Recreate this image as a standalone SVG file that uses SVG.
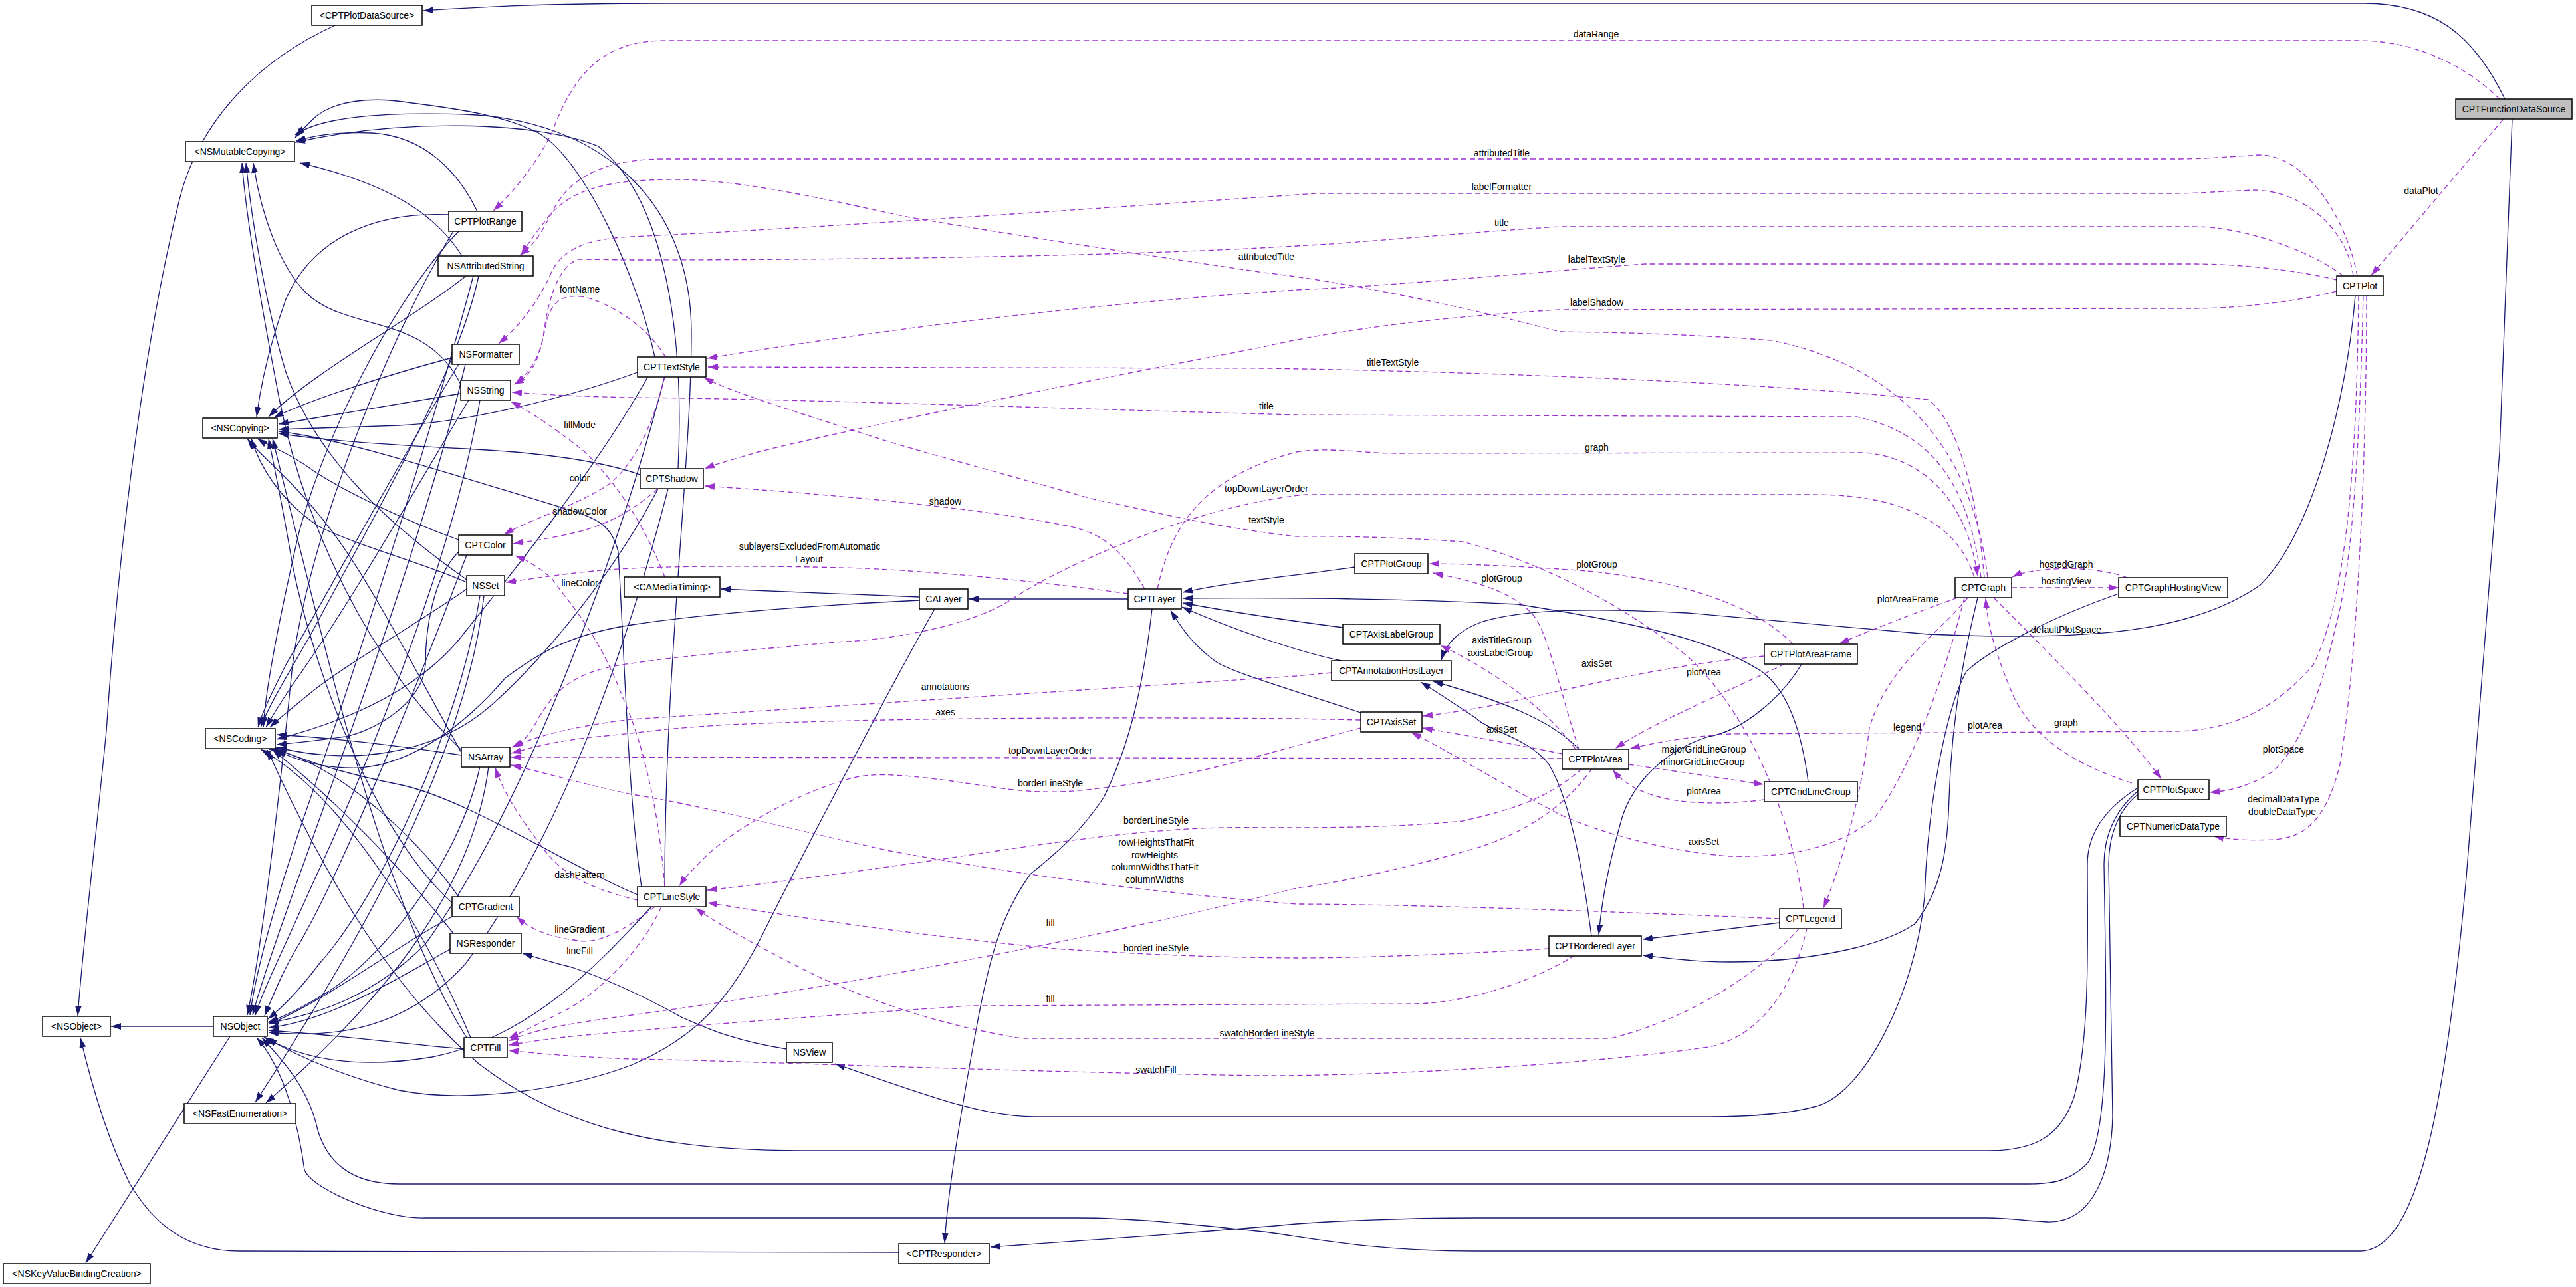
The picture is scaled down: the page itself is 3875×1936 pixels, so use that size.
<svg xmlns="http://www.w3.org/2000/svg" width="3875" height="1936" viewBox="0 0 3875 1936">
<style>
.n rect{fill:#fff;stroke:#000;stroke-width:1.5}
.n text,.l{font-family:"Liberation Sans",Arial,sans-serif;font-size:14px;text-anchor:middle;fill:#000}
.s{fill:none;stroke:#191970;stroke-width:1.3;marker-end:url(#ab)}
.d{fill:none;stroke:#9a32cd;stroke-width:1.3;stroke-dasharray:8,5;marker-end:url(#ad)}
</style>
<defs>
<marker id="ab" viewBox="0 0 15 10" refX="15" refY="5" markerWidth="15" markerHeight="10" markerUnits="userSpaceOnUse" orient="auto"><path d="M0,0L15,5L0,10z" fill="#191970"/></marker>
<marker id="ad" viewBox="0 0 15 10" refX="15" refY="5" markerWidth="15" markerHeight="10" markerUnits="userSpaceOnUse" orient="auto"><path d="M0,0L15,5L0,10z" fill="#9a32cd"/></marker>
</defs>
<rect width="3875" height="1936" fill="#fff"/>
<g id="edges">
<!-- inheritance -->
<path class="s" d="M3768,149 C3720,50 3660,5 3555,5 L1000,5 C800,5 700,12 637,16"/>
<path class="s" d="M3779,179 L3760,680 L3710,1320 C3680,1650 3640,1882 3550,1882 L2220,1882 C2050,1882 1950,1858 1900,1853 C1780,1840 1700,1832 1620,1832 L640,1832 C580,1835 470,1790 458,1760 C450,1700 430,1610 386,1561"/>
<path class="s" d="M3216,1190 C3180,1220 3165,1260 3165,1300 C3168,1500 3175,1700 3140,1750 C3110,1780 3080,1781 3050,1781 L600,1781 C520,1781 490,1740 478,1700 C465,1640 430,1600 394,1561"/>
<path class="s" d="M3216,1185 C3160,1220 3140,1260 3140,1300 C3140,1400 3145,1560 3120,1650 C3100,1710 3060,1731 2990,1731 L1205,1731 C1000,1731 850,1700 720,1600 C580,1480 480,1300 402,1128"/>
<path class="s" d="M3216,1195 C3185,1220 3172,1260 3172,1300 L3178,1680 C3176,1760 3150,1840 3080,1838 C3040,1836 3020,1832 2990,1832 L2220,1832 C2100,1832 1990,1838 1950,1841 C1800,1855 1600,1868 1490,1876"/>
<path class="s" d="M1352,1884 L360,1882 C280,1882 230,1840 195,1780 C160,1710 135,1620 121,1561"/>
<path class="s" d="M504,38 C390,90 300,180 270,300 C220,500 180,800 160,1100 C140,1300 122,1450 117,1528"/>
<path class="s" d="M321,1544 L167,1544"/>
<path class="s" d="M346,1559 L129,1900"/>
<path class="s" d="M1383,898 L1084,886"/>
<path class="s" d="M1697,901 L1457,901"/>
<path class="s" d="M1383,903 C1200,912 1050,925 950,940 C850,955 800,990 760,1020 C700,1090 620,1150 540,1155 C480,1157 440,1140 415,1129"/>
<path class="s" d="M1406,916 C1330,1050 1200,1300 1150,1400 C1100,1500 1050,1560 950,1602 C850,1640 700,1660 600,1640 C520,1620 450,1590 401,1562"/>
<path class="s" d="M1733,916 C1720,1030 1700,1120 1660,1200 C1620,1260 1580,1290 1550,1315 C1510,1370 1490,1430 1470,1540 C1440,1700 1425,1800 1421,1870"/>
<path class="s" d="M2038,853 C1950,866 1850,875 1779,891"/>
<path class="s" d="M2720,1176 C2710,1100 2690,1040 2650,1010 C2580,965 2480,940 2283,909 C2100,900 1950,899 1779,900"/>
<path class="s" d="M2020,944 C1950,935 1850,920 1779,907"/>
<path class="s" d="M2018,994 C1950,980 1850,945 1778,913"/>
<path class="s" d="M2047,1072 C1950,1040 1850,1010 1830,996 C1800,975 1780,950 1761,918"/>
<path class="s" d="M3543,445 C3530,600 3480,800 3400,880 C3300,950 3150,965 2900,954 L2538,922 C2400,915 2300,915 2230,935 C2190,950 2175,970 2168,993"/>
<path class="s" d="M2375,1127 C2340,1090 2280,1060 2156,1025"/>
<path class="s" d="M2394,1408 C2380,1300 2360,1200 2330,1150 C2300,1110 2240,1100 2220,1080 C2190,1060 2160,1040 2137,1026"/>
<path class="s" d="M2710,999 C2680,1050 2620,1100 2570,1108 C2500,1130 2455,1182 2440,1230 C2420,1300 2410,1350 2405,1406"/>
<path class="s" d="M2677,1388 L2471,1413"/>
<path class="s" d="M2975,899 C2950,1000 2935,1100 2932,1200 C2930,1280 2920,1340 2880,1390 C2820,1430 2700,1447 2602,1447 C2540,1447 2500,1440 2471,1437"/>
<path class="s" d="M3187,893 C3080,930 2990,980 2958,1010 C2930,1060 2900,1200 2895,1350 C2880,1500 2800,1650 2729,1665 C2680,1678 2620,1680 2570,1680 L1556,1680 C1480,1680 1400,1650 1256,1600"/>
<path class="s" d="M1183,1578 C1100,1565 1060,1545 1027,1531 C980,1505 920,1475 860,1455 C820,1445 800,1438 786,1434"/>
<!-- left cluster -->
<path class="s" d="M718,318 C690,260 640,205 560,200 C500,198 470,205 445,212"/>
<path class="s" d="M675,323 C560,318 470,360 430,450 C405,520 392,580 386,627"/>
<path class="s" d="M690,348 C610,430 500,620 450,800 C420,930 400,1030 396,1094"/>
<path class="s" d="M682,348 C600,480 470,780 440,1000 C420,1200 395,1420 372,1527"/>
<path class="s" d="M695,385 C660,330 600,280 451,245"/>
<path class="s" d="M701,415 C620,480 470,560 404,627"/>
<path class="s" d="M720,415 C690,560 560,780 470,950 C430,1020 405,1060 392,1094"/>
<path class="s" d="M712,415 C650,650 520,1050 450,1250 C410,1370 385,1460 376,1527"/>
<path class="s" d="M680,538 C580,565 470,600 412,628"/>
<path class="s" d="M690,548 C620,660 500,880 430,1000 C410,1040 395,1070 388,1094"/>
<path class="s" d="M700,548 C640,800 520,1120 460,1290 C420,1400 392,1480 380,1527"/>
<path class="s" d="M693,578 C640,470 520,500 460,440 C420,400 392,320 381,245"/>
<path class="s" d="M693,592 L419,638"/>
<path class="s" d="M705,602 C640,710 520,920 440,1030 C420,1060 408,1080 400,1094"/>
<path class="s" d="M722,602 C680,850 540,1180 470,1330 C430,1420 395,1490 384,1527"/>
<path class="s" d="M690,812 C600,780 500,730 460,700 C430,680 400,668 387,660"/>
<path class="s" d="M690,830 C650,870 640,950 640,1000 C635,1060 560,1100 520,1108 C470,1115 440,1118 416,1120"/>
<path class="s" d="M702,835 C640,1000 520,1300 450,1420 C425,1460 410,1500 398,1528"/>
<path class="s" d="M702,872 C600,800 480,700 430,560 C400,460 378,330 370,245"/>
<path class="s" d="M702,876 C640,848 540,822 480,792 C420,752 390,700 378,660"/>
<path class="s" d="M702,886 C640,930 520,1000 470,1040 C440,1065 420,1080 406,1094"/>
<path class="s" d="M722,896 C690,1100 570,1350 480,1450 C450,1490 425,1515 403,1533"/>
<path class="s" d="M728,896 C700,1150 520,1450 384,1658"/>
<path class="s" d="M694,1128 C560,1000 460,800 420,600 C395,470 370,330 364,245"/>
<path class="s" d="M694,1132 C620,1000 560,880 500,800 C440,720 395,690 372,660"/>
<path class="s" d="M694,1136 C600,1122 500,1110 416,1105"/>
<path class="s" d="M722,1153 C690,1300 570,1450 480,1500 C450,1518 425,1530 403,1538"/>
<path class="s" d="M735,1153 C710,1350 560,1520 400,1659"/>
<path class="s" d="M680,1358 C560,1250 470,1000 440,850 C425,760 412,700 404,660"/>
<path class="s" d="M690,1349 C620,1250 520,1170 450,1140 C430,1132 418,1128 404,1127"/>
<path class="s" d="M682,1378 C600,1420 500,1500 404,1541"/>
<path class="s" d="M682,1404 C600,1300 500,1200 410,1128"/>
<path class="s" d="M677,1428 C600,1470 500,1535 404,1546"/>
<path class="s" d="M702,1561 C600,1400 520,1100 470,900 C440,780 420,700 410,660"/>
<path class="s" d="M708,1561 C640,1400 520,1200 392,1127"/>
<path class="s" d="M698,1578 C620,1572 500,1556 404,1550"/>
<path class="s" d="M985,537 C960,420 880,240 810,200 C760,175 700,165 620,155 C560,145 500,150 470,180 C458,192 450,200 444,207"/>
<path class="s" d="M959,560 C850,600 700,635 600,640 C500,643 450,645 419,646"/>
<path class="s" d="M975,566 C900,700 780,850 700,950 C640,1030 540,1080 416,1112"/>
<path class="s" d="M1000,566 C940,800 800,1200 640,1420 C560,1500 480,1525 404,1539"/>
<path class="s" d="M1020,705 C1030,500 1000,300 900,220 C800,180 600,180 444,214"/>
<path class="s" d="M963,714 C900,692 800,680 700,675 C560,668 470,660 419,652"/>
<path class="s" d="M990,735 C930,850 830,980 740,1060 C650,1140 520,1150 416,1124"/>
<path class="s" d="M1005,735 C950,950 850,1250 700,1450 C600,1560 480,1560 404,1553"/>
<path class="s" d="M1000,1334 C1000,1000 1040,700 1040,500 C1040,300 900,180 700,172 C560,168 480,178 444,203"/>
<path class="s" d="M965,1334 C945,1200 940,1000 930,830 C920,790 900,780 850,765 C700,720 520,660 419,649"/>
<path class="s" d="M959,1346 C850,1300 700,1200 600,1180 C500,1160 450,1140 416,1127"/>
<path class="s" d="M980,1364 C900,1450 800,1560 650,1590 C530,1610 450,1590 397,1560"/>
<!-- usage -->
<path class="d" d="M3760,149 C3700,90 3620,61 3550,61 L1000,61 C900,61 860,120 830,200 C800,260 760,300 742,317"/>
<path class="d" d="M3766,179 L3567,414"/>
<path class="d" d="M3546,415 C3530,330 3470,233 3398,233 C3350,236 3310,239 3280,239 L1000,239 C890,239 850,280 830,320 C810,360 800,370 782,384"/>
<path class="d" d="M3540,415 C3530,340 3460,286 3390,286 C3340,288 3300,291 3270,291 L1980,291 C1700,310 1200,345 950,356 C870,360 840,380 825,420 C800,470 770,500 750,517"/>
<path class="d" d="M3525,415 C3480,380 3380,341 3300,341 L2346,341 C2200,350 2050,365 1950,370 C1700,385 1300,391 950,391 L870,390 C840,400 825,450 818,500 C812,540 800,565 773,578"/>
<path class="d" d="M3515,421 C3450,405 3360,397 3300,397 L2474,397 C2300,410 2100,430 1950,436 C1600,460 1300,500 1064,539"/>
<path class="d" d="M3515,438 C3450,455 3360,464 3300,464 L2346,466 C2100,480 1950,510 1900,522 C1700,560 1300,640 1140,680 C1100,692 1080,697 1060,705"/>
<path class="d" d="M2990,869 C2960,620 2800,540 2665,512 C2500,500 2400,500 2346,499 C2200,460 2000,420 1900,410 C1700,380 1500,350 1358,325 C1200,290 1100,270 1014,270 C900,270 860,290 830,320 C810,345 795,365 784,383"/>
<path class="d" d="M2985,869 C2970,700 2930,620 2900,601 C2700,580 2300,560 1900,554 L1065,552"/>
<path class="d" d="M2980,869 C2960,720 2900,650 2793,627 L1950,624 C1600,615 1200,600 950,598 C850,596 800,592 770,590"/>
<path class="d" d="M1741,886 C1760,800 1800,720 1950,680 C2000,672 2050,682 2100,682 L2806,681 C2900,690 2960,760 2975,867"/>
<path class="d" d="M2970,869 C2950,800 2880,744 2729,744 L1964,744 C1800,760 1600,850 1524,900 C1450,950 1300,965 1269,965 C1100,980 1000,990 950,998 C850,1010 830,1050 810,1080 C800,1100 790,1115 772,1123"/>
<path class="d" d="M2713,1367 C2700,1250 2640,1080 2538,987 C2430,900 2300,840 2200,815 C2100,808 2000,806 1950,807 C1800,790 1700,760 1652,753 C1500,710 1350,670 1301,653 C1200,620 1100,590 1059,568"/>
<path class="d" d="M1722,886 C1690,830 1660,800 1600,790 C1450,760 1200,740 1060,731"/>
<path class="d" d="M1697,893 C1600,880 1450,862 1300,855 C1150,850 1000,852 950,855 C880,858 820,868 761,876"/>
<path class="d" d="M1000,868 C970,790 930,730 880,680 C830,640 790,615 768,604"/>
<path class="d" d="M1001,537 C980,500 930,460 880,447 C840,440 830,460 823,480 C815,520 810,550 775,577"/>
<path class="d" d="M1000,566 C980,650 950,700 918,727 C870,760 800,780 758,804"/>
<path class="d" d="M990,735 C950,770 910,790 870,800 C820,812 790,815 772,818"/>
<path class="d" d="M1000,1334 C990,1200 960,1100 937,1050 C900,950 850,900 830,870 C800,845 785,840 775,836"/>
<path class="d" d="M959,1354 C900,1340 850,1320 820,1280 C790,1240 760,1200 745,1155"/>
<path class="d" d="M985,1364 C940,1400 900,1420 870,1415 C830,1410 800,1400 777,1379"/>
<path class="d" d="M995,1364 C960,1440 890,1500 850,1520 C810,1540 790,1550 765,1562"/>
<path class="d" d="M2003,1012 L1950,1017 L950,1082 C880,1090 810,1105 770,1124"/>
<path class="d" d="M2047,1083 L1950,1081 C1600,1078 1300,1081 1100,1090 C1000,1095 950,1104 900,1108 C830,1115 800,1125 769,1133"/>
<path class="d" d="M2350,1141 L769,1139"/>
<path class="d" d="M2047,1095 C1950,1120 1800,1170 1652,1186 C1600,1193 1556,1193 1500,1185 C1400,1170 1330,1160 1288,1169 C1200,1190 1100,1250 1060,1290 C1040,1310 1030,1320 1022,1333"/>
<path class="d" d="M2380,1156 C2330,1200 2280,1217 2200,1235 C2100,1245 2000,1245 1900,1245 C1800,1243 1700,1250 1500,1280 C1300,1310 1150,1330 1064,1339"/>
<path class="d" d="M2677,1382 C2400,1370 2100,1360 1950,1360 C1700,1340 1500,1310 1339,1280 C1200,1250 1050,1210 950,1195 C880,1180 810,1160 769,1151"/>
<path class="d" d="M2395,1156 C2350,1220 2280,1260 2206,1280 C2100,1310 2000,1330 1950,1336 C1700,1400 1300,1480 950,1527 C850,1540 800,1550 765,1566"/>
<path class="d" d="M2330,1427 C2200,1435 2050,1441 1950,1441 C1800,1440 1700,1434 1600,1428 C1400,1410 1200,1380 1064,1358"/>
<path class="d" d="M2369,1437 C2300,1480 2200,1510 2123,1510 L1460,1513 C1200,1530 950,1550 850,1560 C810,1565 790,1568 765,1572"/>
<path class="d" d="M2707,1396 C2650,1460 2550,1530 2423,1562 L1537,1562 C1400,1540 1300,1500 1237,1472 C1150,1430 1080,1390 1046,1366"/>
<path class="d" d="M2718,1396 C2700,1480 2650,1560 2570,1575 C2400,1600 2100,1618 1900,1618 C1500,1612 1100,1595 950,1593 C870,1590 810,1585 765,1580"/>
<path class="d" d="M2697,969 C2650,920 2560,880 2400,860 C2300,852 2200,848 2150,848"/>
<path class="d" d="M2375,1127 C2350,1050 2330,960 2310,930 C2280,890 2220,875 2156,862"/>
<path class="d" d="M2945,899 C2900,915 2820,945 2767,968"/>
<path class="d" d="M2370,1127 C2330,1070 2250,1010 2167,971"/>
<path class="d" d="M2654,987 C2500,1000 2350,1040 2250,1060 C2200,1070 2160,1075 2140,1077"/>
<path class="d" d="M2684,999 C2600,1040 2480,1090 2430,1126"/>
<path class="d" d="M2350,1134 C2280,1120 2200,1105 2140,1095"/>
<path class="d" d="M2960,899 C2920,950 2840,1000 2812,1095 C2800,1200 2770,1300 2743,1366"/>
<path class="d" d="M2450,1150 C2520,1160 2600,1172 2653,1180"/>
<path class="d" d="M2654,1203 C2600,1210 2540,1210 2500,1200 C2460,1190 2440,1175 2426,1158"/>
<path class="d" d="M2955,899 C2930,1000 2880,1150 2820,1230 C2760,1280 2680,1290 2601,1288 C2500,1280 2400,1250 2346,1225 C2260,1180 2180,1130 2123,1102"/>
<path class="d" d="M3548,445 C3545,700 3530,900 3480,1000 C3420,1070 3350,1100 3270,1100 L2601,1104 C2520,1110 2480,1120 2452,1126"/>
<path class="d" d="M3207,1178 C3120,1150 3060,1110 3030,1050 C3000,980 2990,940 2987,900"/>
<path class="d" d="M2999,899 C3080,980 3200,1100 3251,1172"/>
<path class="d" d="M3200,869 C3150,850 3060,852 3027,868"/>
<path class="d" d="M3026,884 L3187,884"/>
<path class="d" d="M3555,445 C3550,650 3540,850 3513,944 C3490,1050 3460,1120 3420,1160 C3380,1185 3350,1190 3324,1192"/>
<path class="d" d="M3560,445 C3560,700 3545,1000 3520,1150 C3500,1230 3470,1260 3420,1263 C3380,1265 3350,1262 3330,1258"/>
</g>
<g id="labels">
<text class="l" x="2401" y="56">dataRange</text>
<text class="l" x="3642" y="292">dataPlot</text>
<text class="l" x="2259" y="235">attributedTitle</text>
<text class="l" x="2259" y="286">labelFormatter</text>
<text class="l" x="2259" y="340">title</text>
<text class="l" x="2402" y="395">labelTextStyle</text>
<text class="l" x="1905" y="391">attributedTitle</text>
<text class="l" x="2402" y="460">labelShadow</text>
<text class="l" x="872" y="440">fontName</text>
<text class="l" x="2095" y="550">titleTextStyle</text>
<text class="l" x="1905" y="616">title</text>
<text class="l" x="872" y="644">fillMode</text>
<text class="l" x="2402" y="678">graph</text>
<text class="l" x="872" y="724">color</text>
<text class="l" x="1905" y="740">topDownLayerOrder</text>
<text class="l" x="1422" y="759">shadow</text>
<text class="l" x="872" y="774">shadowColor</text>
<text class="l" x="1905" y="787">textStyle</text>
<text class="l" x="1218" y="827">sublayersExcludedFromAutomatic</text>
<text class="l" x="1217" y="846">Layout</text>
<text class="l" x="2402" y="854">plotGroup</text>
<text class="l" x="3108" y="854">hostedGraph</text>
<text class="l" x="2259" y="875">plotGroup</text>
<text class="l" x="3108" y="879">hostingView</text>
<text class="l" x="872" y="882">lineColor</text>
<text class="l" x="2870" y="906">plotAreaFrame</text>
<text class="l" x="3108" y="952">defaultPlotSpace</text>
<text class="l" x="2259" y="968">axisTitleGroup</text>
<text class="l" x="2257" y="987">axisLabelGroup</text>
<text class="l" x="2402" y="1003">axisSet</text>
<text class="l" x="2563" y="1016">plotArea</text>
<text class="l" x="1422" y="1038">annotations</text>
<text class="l" x="1422" y="1076">axes</text>
<text class="l" x="3108" y="1092">graph</text>
<text class="l" x="2986" y="1096">plotArea</text>
<text class="l" x="2869" y="1099">legend</text>
<text class="l" x="2259" y="1102">axisSet</text>
<text class="l" x="2563" y="1132">majorGridLineGroup</text>
<text class="l" x="2561" y="1151">minorGridLineGroup</text>
<text class="l" x="3435" y="1132">plotSpace</text>
<text class="l" x="1580" y="1134">topDownLayerOrder</text>
<text class="l" x="1580" y="1183">borderLineStyle</text>
<text class="l" x="2563" y="1195">plotArea</text>
<text class="l" x="3435" y="1207">decimalDataType</text>
<text class="l" x="3433" y="1226">doubleDataType</text>
<text class="l" x="1739" y="1239">borderLineStyle</text>
<text class="l" x="2563" y="1271">axisSet</text>
<text class="l" x="1739" y="1272">rowHeightsThatFit</text>
<text class="l" x="1737" y="1291">rowHeights</text>
<text class="l" x="1737" y="1309">columnWidthsThatFit</text>
<text class="l" x="1737" y="1328">columnWidths</text>
<text class="l" x="872" y="1321">dashPattern</text>
<text class="l" x="1580" y="1393">fill</text>
<text class="l" x="872" y="1403">lineGradient</text>
<text class="l" x="1739" y="1431">borderLineStyle</text>
<text class="l" x="872" y="1435">lineFill</text>
<text class="l" x="1580" y="1507">fill</text>
<text class="l" x="1906" y="1559">swatchBorderLineStyle</text>
<text class="l" x="1739" y="1614">swatchFill</text>
</g>
<g id="nodes">
<g id="CPTFunctionDataSource" class="n"><rect x="3694" y="149" width="175" height="30" style="fill:#bfbfbf"/><text x="3781.5" y="169">CPTFunctionDataSource</text></g>
<g id="CPTPlotDataSource" class="n"><rect x="469" y="8" width="166" height="30"/><text x="552" y="28">&lt;CPTPlotDataSource&gt;</text></g>
<g id="NSMutableCopying" class="n"><rect x="279" y="213" width="164" height="30"/><text x="361" y="233">&lt;NSMutableCopying&gt;</text></g>
<g id="CPTPlotRange" class="n"><rect x="675" y="318" width="110" height="30"/><text x="730" y="338">CPTPlotRange</text></g>
<g id="NSAttributedString" class="n"><rect x="659" y="385" width="143" height="30"/><text x="730.5" y="405">NSAttributedString</text></g>
<g id="NSFormatter" class="n"><rect x="680" y="518" width="101" height="30"/><text x="730.5" y="538">NSFormatter</text></g>
<g id="NSString" class="n"><rect x="693" y="572" width="75" height="30"/><text x="730.5" y="592">NSString</text></g>
<g id="NSCopying" class="n"><rect x="305" y="629" width="112" height="30"/><text x="361" y="649">&lt;NSCopying&gt;</text></g>
<g id="CPTTextStyle" class="n"><rect x="959" y="537" width="103" height="30"/><text x="1010.5" y="557">CPTTextStyle</text></g>
<g id="CPTShadow" class="n"><rect x="963" y="705" width="95" height="30"/><text x="1010.5" y="725">CPTShadow</text></g>
<g id="CPTColor" class="n"><rect x="690" y="805" width="80" height="30"/><text x="730" y="825">CPTColor</text></g>
<g id="NSSet" class="n"><rect x="702" y="866" width="57" height="30"/><text x="730.5" y="886">NSSet</text></g>
<g id="CAMediaTiming" class="n"><rect x="939" y="868" width="144" height="30"/><text x="1011" y="888">&lt;CAMediaTiming&gt;</text></g>
<g id="CALayer" class="n"><rect x="1383" y="886" width="73" height="30"/><text x="1419.5" y="906">CALayer</text></g>
<g id="CPTLayer" class="n"><rect x="1697" y="886" width="80" height="30"/><text x="1737" y="906">CPTLayer</text></g>
<g id="NSCoding" class="n"><rect x="309" y="1096" width="105" height="30"/><text x="361.5" y="1116">&lt;NSCoding&gt;</text></g>
<g id="NSArray" class="n"><rect x="694" y="1124" width="73" height="30"/><text x="730.5" y="1144">NSArray</text></g>
<g id="CPTLineStyle" class="n"><rect x="959" y="1334" width="103" height="30"/><text x="1010.5" y="1354">CPTLineStyle</text></g>
<g id="CPTGradient" class="n"><rect x="680" y="1349" width="101" height="30"/><text x="730.5" y="1369">CPTGradient</text></g>
<g id="NSResponder" class="n"><rect x="677" y="1404" width="107" height="30"/><text x="730.5" y="1424">NSResponder</text></g>
<g id="NSObjectProtocol" class="n"><rect x="64" y="1529" width="102" height="30"/><text x="115" y="1549">&lt;NSObject&gt;</text></g>
<g id="NSObject" class="n"><rect x="321" y="1529" width="81" height="30"/><text x="361.5" y="1549">NSObject</text></g>
<g id="CPTFill" class="n"><rect x="698" y="1561" width="65" height="30"/><text x="730.5" y="1581">CPTFill</text></g>
<g id="NSFastEnumeration" class="n"><rect x="277" y="1660" width="168" height="30"/><text x="361" y="1680">&lt;NSFastEnumeration&gt;</text></g>
<g id="NSKeyValueBindingCreation" class="n"><rect x="5" y="1901" width="221" height="30"/><text x="115.5" y="1921">&lt;NSKeyValueBindingCreation&gt;</text></g>
<g id="NSView" class="n"><rect x="1183" y="1568" width="69" height="30"/><text x="1217.5" y="1588">NSView</text></g>
<g id="CPTResponder" class="n"><rect x="1352" y="1871" width="136" height="30"/><text x="1420" y="1891">&lt;CPTResponder&gt;</text></g>
<g id="CPTPlotGroup" class="n"><rect x="2038" y="833" width="110" height="30"/><text x="2093" y="853">CPTPlotGroup</text></g>
<g id="CPTAxisLabelGroup" class="n"><rect x="2020" y="939" width="146" height="30"/><text x="2093" y="959">CPTAxisLabelGroup</text></g>
<g id="CPTAnnotationHostLayer" class="n"><rect x="2003" y="994" width="180" height="30"/><text x="2093" y="1014">CPTAnnotationHostLayer</text></g>
<g id="CPTAxisSet" class="n"><rect x="2047" y="1071" width="92" height="30"/><text x="2093" y="1091">CPTAxisSet</text></g>
<g id="CPTPlotArea" class="n"><rect x="2350" y="1127" width="100" height="30"/><text x="2400" y="1147">CPTPlotArea</text></g>
<g id="CPTPlotAreaFrame" class="n"><rect x="2654" y="969" width="140" height="30"/><text x="2724" y="989">CPTPlotAreaFrame</text></g>
<g id="CPTGridLineGroup" class="n"><rect x="2654" y="1176" width="140" height="30"/><text x="2724" y="1196">CPTGridLineGroup</text></g>
<g id="CPTBorderedLayer" class="n"><rect x="2330" y="1408" width="139" height="30"/><text x="2399.5" y="1428">CPTBorderedLayer</text></g>
<g id="CPTLegend" class="n"><rect x="2677" y="1367" width="93" height="30"/><text x="2723.5" y="1387">CPTLegend</text></g>
<g id="CPTGraph" class="n"><rect x="2941" y="869" width="85" height="30"/><text x="2983.5" y="889">CPTGraph</text></g>
<g id="CPTGraphHostingView" class="n"><rect x="3187" y="869" width="164" height="30"/><text x="3269" y="889">CPTGraphHostingView</text></g>
<g id="CPTPlotSpace" class="n"><rect x="3216" y="1173" width="107" height="30"/><text x="3269.5" y="1193">CPTPlotSpace</text></g>
<g id="CPTNumericDataType" class="n"><rect x="3189" y="1228" width="160" height="30"/><text x="3269" y="1248">CPTNumericDataType</text></g>
<g id="CPTPlot" class="n"><rect x="3515" y="415" width="70" height="30"/><text x="3550" y="435">CPTPlot</text></g>
</g>
</svg>
